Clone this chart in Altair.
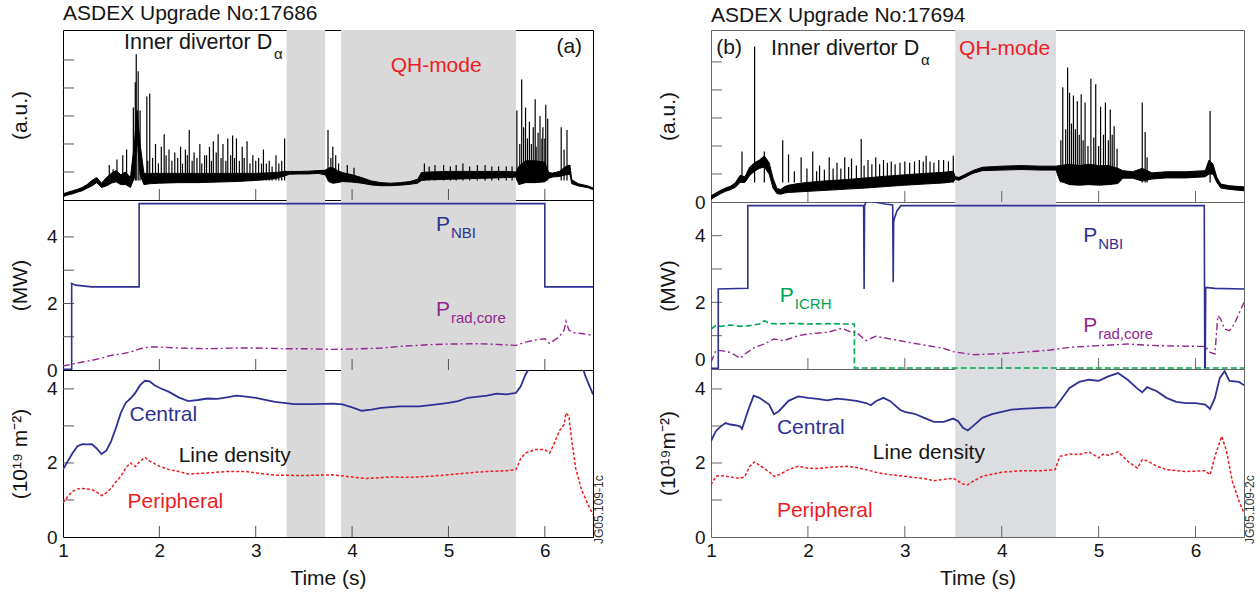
import altair as alt
import pandas as pd

FONT = "Liberation Sans"
INK = "#151515"
BLUE = "#2e3192"
PURPLE = "#93278f"
GREEN = "#00a651"
RED = "#ed1c24"
SHADE = "#d9d9d9"
SHADE_B = "#dcdde0"

# ---------------- data ----------------
QH_S_A = [3.32, 3.885]
QH_E_A = [3.72, 5.70]
QH_S_B = [3.52]
QH_E_B = [4.56]

XTICKS = [2, 3, 4, 5, 6]
XLABELS = [1, 2, 3, 4, 5, 6]
DA_TICKS = [1, 2, 3, 4, 5]
MW_TICKS = [1, 2, 3, 4]
MW_LABELS = [0, 2, 4]
ND_TICKS = [1, 2, 3, 4]
ND_LABELS = [0, 2, 4]

# Inner divertor D-alpha, shot 17686: noise band (lo/hi) and ELM spikes
DA_T_A = [1.00, 1.05, 1.10, 1.15, 1.20, 1.25, 1.30, 1.35, 1.40, 1.45, 1.50, 1.55, 1.60, 1.65, 1.70,
          1.74, 1.77, 1.80, 1.84, 1.90, 2.00, 2.20, 2.40, 2.60, 2.80, 3.00, 3.20, 3.30, 3.35, 3.45,
          3.55, 3.65, 3.72, 3.76, 3.80, 3.85, 3.90, 4.00, 4.10, 4.20, 4.30, 4.40, 4.50, 4.60, 4.68,
          4.72, 4.80, 5.00, 5.20, 5.40, 5.60, 5.70, 5.73, 5.80, 5.90, 6.00, 6.04, 6.08, 6.15, 6.22,
          6.26, 6.28, 6.35, 6.45, 6.50]
DA_LO_A = [0.12, 0.18, 0.22, 0.28, 0.33, 0.42, 0.50, 0.62, 0.45, 0.50, 0.60, 0.65, 0.55, 0.55, 0.45,
           0.80, 2.20, 0.90, 0.55, 0.58, 0.60, 0.62, 0.62, 0.64, 0.66, 0.70, 0.76, 0.86, 0.92, 0.93,
           0.93, 0.95, 0.90, 0.65, 0.60, 0.62, 0.66, 0.64, 0.60, 0.54, 0.51, 0.51, 0.53, 0.56, 0.60,
           0.70, 0.72, 0.74, 0.76, 0.78, 0.80, 0.82, 0.55, 0.62, 0.62, 0.65, 0.78, 0.82, 0.84, 0.90,
           0.92, 0.58, 0.50, 0.44, 0.37]
DA_HI_A = [0.22, 0.28, 0.33, 0.38, 0.45, 0.55, 0.70, 0.80, 0.60, 0.80, 0.95, 1.05, 0.90, 1.00, 0.80,
           2.00, 3.20, 2.00, 0.95, 0.95, 0.95, 0.95, 0.95, 0.95, 0.95, 0.95, 0.98, 1.02, 1.02, 1.02,
           1.03, 1.05, 1.06, 1.15, 1.15, 1.05, 0.98, 0.90, 0.80, 0.68, 0.62, 0.60, 0.62, 0.66, 0.74,
           0.98, 1.00, 1.02, 1.02, 1.02, 1.02, 1.00, 1.20, 1.40, 1.40, 1.35, 0.98, 0.96, 1.02, 1.20,
           1.25, 0.72, 0.58, 0.50, 0.43]
SPK_T_A = [1.48, 1.52, 1.56, 1.62, 1.66, 1.73, 1.75, 1.76, 1.78, 1.80, 1.87, 1.88, 1.90, 1.93, 1.96,
           1.99, 2.02, 2.05, 2.07, 2.10, 2.13, 2.16, 2.19, 2.22, 2.24, 2.27, 2.29, 2.31, 2.34, 2.36,
           2.39, 2.42, 2.44, 2.47, 2.49, 2.52, 2.54, 2.56, 2.59, 2.61, 2.64, 2.66, 2.69, 2.71, 2.74,
           2.76, 2.78, 2.80, 2.83, 2.86, 2.88, 2.91, 2.94, 2.97, 3.00, 3.03, 3.06, 3.08, 3.11, 3.14,
           3.17, 3.21, 3.24, 3.27, 3.30, 3.75, 3.78, 3.80, 3.83, 3.86, 3.95, 4.02, 4.75, 4.80, 4.86,
           4.95, 5.02, 5.08, 5.15, 5.22, 5.30, 5.38, 5.45, 5.52, 5.60, 5.66, 5.71, 5.74, 5.76, 5.78,
           5.80, 5.82, 5.84, 5.86, 5.88, 5.90, 5.91, 5.93, 5.95, 5.97, 5.98, 6.00, 6.01, 6.03, 6.17,
           6.20, 6.23]
SPK_H_A = [1.25, 1.10, 1.45, 1.60, 1.80, 3.30, 4.20, 5.20, 4.60, 3.20, 3.70, 1.40, 3.80, 1.50, 2.00,
           1.30, 1.90, 2.35, 1.60, 1.80, 1.40, 1.70, 1.50, 1.90, 1.30, 1.80, 1.60, 2.50, 1.40, 1.70,
           1.50, 2.00, 1.30, 1.60, 1.60, 1.90, 1.40, 2.10, 1.70, 2.35, 1.50, 2.00, 1.40, 2.20, 1.60,
           2.30, 1.50, 2.20, 1.40, 1.90, 1.50, 2.10, 1.30, 1.60, 1.40, 1.50, 1.30, 1.80, 1.30, 1.40,
           1.20, 1.60, 1.30, 1.40, 2.20, 2.50, 1.50, 1.90, 1.60, 1.30, 1.25, 1.15, 1.30, 1.20, 1.25,
           1.25, 1.20, 1.25, 1.30, 1.20, 1.25, 1.25, 1.20, 1.20, 1.20, 1.20, 3.20, 2.00, 4.30, 2.60,
           3.30, 2.20, 2.80, 2.00, 2.60, 3.60, 1.90, 2.40, 3.00, 2.20, 2.60, 2.20, 3.40, 2.90, 2.60,
           1.80, 2.50]

# Inner divertor D-alpha, shot 17694
DA_T_B = [1.00, 1.05, 1.10, 1.15, 1.20, 1.25, 1.30, 1.35, 1.40, 1.45, 1.50, 1.55, 1.60, 1.64, 1.68,
          1.72, 1.76, 1.80, 1.90, 2.00, 2.20, 2.40, 2.60, 2.80, 3.00, 3.20, 3.40, 3.50, 3.52, 3.56,
          3.62, 3.70, 3.80, 4.00, 4.20, 4.40, 4.56, 4.60, 4.70, 4.80, 4.90, 5.00, 5.10, 5.20, 5.25,
          5.35, 5.45, 5.55, 5.70, 5.90, 6.10, 6.14, 6.18, 6.22, 6.26, 6.35, 6.50]
DA_LO_B = [0.10, 0.20, 0.30, 0.38, 0.44, 0.52, 0.70, 0.70, 0.95, 1.10, 1.20, 1.25, 1.00, 0.50, 0.30,
           0.28, 0.32, 0.34, 0.36, 0.38, 0.42, 0.46, 0.50, 0.55, 0.60, 0.64, 0.68, 0.72, 0.80, 0.78,
           0.88, 1.02, 1.12, 1.14, 1.16, 1.14, 1.14, 0.75, 0.62, 0.60, 0.62, 0.60, 0.62, 0.66, 0.85,
           0.85, 0.75, 0.82, 0.86, 0.86, 0.90, 1.00, 1.00, 0.70, 0.50, 0.45, 0.40]
DA_HI_B = [0.22, 0.32, 0.42, 0.50, 0.56, 0.68, 0.95, 0.90, 1.25, 1.40, 1.50, 1.65, 1.40, 0.85, 0.48,
           0.45, 0.55, 0.60, 0.66, 0.70, 0.76, 0.80, 0.86, 0.92, 0.97, 1.02, 1.06, 1.10, 0.90, 0.88,
           0.98, 1.12, 1.24, 1.28, 1.30, 1.28, 1.28, 1.30, 1.35, 1.30, 1.35, 1.30, 1.30, 1.20, 1.12,
           1.08, 1.20, 1.04, 1.08, 1.08, 1.12, 1.50, 1.35, 0.88, 0.64, 0.58, 0.54]
SPK_T_B = [1.32, 1.45, 1.55, 1.74, 1.80, 1.86, 1.93, 1.99, 2.05, 2.09, 2.12, 2.17, 2.22, 2.26, 2.30,
           2.34, 2.38, 2.42, 2.45, 2.50, 2.55, 2.58, 2.62, 2.66, 2.70, 2.74, 2.78, 2.82, 2.86, 2.90,
           2.95, 3.00, 3.05, 3.10, 3.15, 3.19, 3.22, 3.26, 3.30, 3.35, 3.40, 3.45, 3.50, 4.61, 4.63,
           4.66, 4.68, 4.70, 4.72, 4.74, 4.76, 4.78, 4.80, 4.82, 4.84, 4.86, 4.89, 4.92, 4.95, 4.97,
           5.00, 5.02, 5.05, 5.07, 5.10, 5.12, 5.14, 5.16, 5.19, 5.45, 5.48, 5.50, 6.15]
SPK_H_B = [1.80, 5.55, 1.80, 2.20, 1.70, 1.10, 1.60, 1.20, 1.80, 1.10, 1.30, 1.15, 1.60, 1.20, 1.40,
           1.20, 1.60, 1.25, 1.55, 1.30, 2.25, 1.30, 1.50, 1.35, 1.60, 1.35, 1.50, 1.40, 1.45, 1.35,
           1.40, 1.45, 1.40, 1.45, 1.50, 1.45, 1.65, 1.45, 1.40, 1.50, 1.50, 1.45, 1.65, 2.20, 4.10,
           2.60, 4.80, 3.90, 2.80, 3.80, 2.60, 3.60, 2.40, 3.85, 2.20, 3.55, 2.00, 4.40, 2.30, 4.20,
           2.00, 3.40, 2.40, 3.55, 2.20, 3.30, 2.40, 2.70, 1.90, 3.55, 2.50, 1.60, 3.25]

# Heating / radiated power (MW)
NB_T_A = [1.0, 1.09, 1.09, 1.13, 1.3, 1.79, 1.79, 3.0, 6.0, 6.0, 6.5]
NB_V_A = [0.02, 0.02, 2.6, 2.55, 2.5, 2.5, 5.0, 5.0, 5.0, 2.5, 2.5]
PR_T_A = [1.0, 1.1, 1.2, 1.3, 1.4, 1.5, 1.6, 1.7, 1.8, 1.9, 2.0, 2.2, 2.5, 2.8, 3.0, 3.3, 3.5, 3.8,
          4.0, 4.3, 4.5, 4.8, 5.0, 5.3, 5.5, 5.7, 5.8, 5.9, 6.0, 6.05, 6.1, 6.15, 6.2, 6.22, 6.25,
          6.3, 6.4, 6.5]
PR_V_A = [0.12, 0.18, 0.24, 0.29, 0.36, 0.44, 0.48, 0.54, 0.64, 0.69, 0.69, 0.66, 0.64, 0.66, 0.66,
          0.64, 0.64, 0.62, 0.63, 0.66, 0.71, 0.76, 0.78, 0.79, 0.77, 0.74, 0.84, 0.90, 0.94, 0.80,
          0.90, 1.00, 1.20, 1.46, 1.20, 1.12, 1.09, 1.04]

NB_T_B = [1.0, 1.075, 1.075, 1.38, 1.38, 2.575, 2.58, 2.585, 2.6, 2.64, 2.7, 2.8, 2.875, 2.88, 2.885,
          2.89, 2.92, 2.96, 6.09, 6.095, 6.1, 6.105, 6.2, 6.5]
NB_V_B = [0.02, 0.02, 2.4, 2.42, 4.9, 4.9, 2.4, 4.9, 5.02, 5.05, 5.0, 4.95, 4.92, 2.6, 4.4, 4.5,
          4.75, 4.9, 4.9, 0.05, 0.05, 2.45, 2.42, 2.4]
IC_T_B = [1.0, 1.05, 1.1, 1.2, 1.3, 1.4, 1.5, 1.55, 1.6, 1.7, 1.8, 2.0, 2.2, 2.4, 2.48, 2.48, 6.5]
IC_V_B = [1.2, 1.3, 1.28, 1.32, 1.28, 1.3, 1.35, 1.45, 1.37, 1.35, 1.37, 1.35, 1.36, 1.35, 1.35,
          0.03, 0.03]
PR_T_B = [1.0, 1.05, 1.1, 1.2, 1.3, 1.35, 1.45, 1.55, 1.65, 1.75, 1.9, 2.0, 2.2, 2.35, 2.45, 2.5,
          2.6, 2.7, 2.8, 3.0, 3.2, 3.4, 3.5, 3.7, 3.9, 4.1, 4.3, 4.5, 4.7, 5.0, 5.3, 5.6, 6.0, 6.1,
          6.15, 6.2, 6.23, 6.26, 6.3, 6.35, 6.4, 6.5]
PR_V_B = [0.2, 0.55, 0.55, 0.5, 0.32, 0.45, 0.65, 0.75, 0.9, 0.85, 1.0, 1.05, 1.1, 1.22, 1.1, 1.1,
          0.85, 0.98, 0.93, 0.82, 0.72, 0.62, 0.52, 0.43, 0.45, 0.48, 0.52, 0.57, 0.65, 0.7, 0.75,
          0.7, 0.68, 0.68, 0.5, 0.45, 1.6, 1.5, 1.2, 1.15, 1.35, 2.0]

# Line density (10^19 m^-2)
NC_T_A = [1.0, 1.05, 1.1, 1.15, 1.2, 1.25, 1.3, 1.35, 1.4, 1.45, 1.5, 1.55, 1.6, 1.65, 1.7, 1.75,
          1.8, 1.85, 1.9, 1.95, 2.0, 2.1, 2.2, 2.3, 2.4, 2.5, 2.6, 2.7, 2.8, 2.9, 3.0, 3.2, 3.4,
          3.6, 3.8, 3.9, 4.0, 4.1, 4.2, 4.3, 4.5, 4.7, 4.9, 5.0, 5.1, 5.2, 5.4, 5.5, 5.6, 5.7, 5.75,
          5.8, 5.85, 6.0, 6.2, 6.38, 6.42, 6.5]
NC_V_A = [1.82, 2.05, 2.27, 2.45, 2.51, 2.5, 2.51, 2.39, 2.24, 2.33, 2.59, 2.95, 3.35, 3.62, 3.74,
          3.89, 4.1, 4.22, 4.2, 4.1, 4.03, 3.92, 3.77, 3.67, 3.7, 3.74, 3.73, 3.77, 3.82, 3.79, 3.76,
          3.65, 3.59, 3.59, 3.6, 3.58, 3.5, 3.41, 3.44, 3.49, 3.53, 3.53, 3.59, 3.62, 3.67, 3.76,
          3.82, 3.87, 3.85, 3.89, 4.07, 4.39, 4.6, 4.9, 4.9, 4.7, 4.35, 3.85]
NP_T_A = [1.0, 1.05, 1.1, 1.15, 1.2, 1.3, 1.35, 1.4, 1.45, 1.5, 1.55, 1.6, 1.65, 1.7, 1.75, 1.8,
          1.85, 1.9, 2.0, 2.1, 2.2, 2.3, 2.5, 2.7, 2.9, 3.0, 3.2, 3.5, 3.8, 4.0, 4.15, 4.4, 4.6,
          4.8, 5.0, 5.2, 5.4, 5.6, 5.7, 5.75, 5.8, 5.9, 6.0, 6.05, 6.1, 6.15, 6.2, 6.22, 6.25,
          6.28, 6.32, 6.38, 6.45, 6.5]
NP_V_A = [0.92, 1.1, 1.23, 1.3, 1.31, 1.28, 1.21, 1.12, 1.19, 1.32, 1.49, 1.64, 1.86, 2.0, 1.9,
          2.05, 2.15, 2.05, 1.91, 1.82, 1.77, 1.7, 1.73, 1.77, 1.77, 1.73, 1.67, 1.66, 1.68, 1.62,
          1.58, 1.62, 1.61, 1.64, 1.68, 1.73, 1.77, 1.79, 1.82, 2.12, 2.27, 2.36, 2.36, 2.27, 2.54,
          2.86, 3.04, 3.35, 3.26, 2.59, 1.86, 1.28, 0.87, 0.6]
NC_T_B = [1.0, 1.05, 1.1, 1.15, 1.2, 1.25, 1.3, 1.32, 1.38, 1.44, 1.5, 1.6, 1.65, 1.7, 1.8, 1.9,
          2.0, 2.1, 2.2, 2.3, 2.4, 2.5, 2.6, 2.65, 2.7, 2.78, 2.85, 2.95, 3.0, 3.1, 3.2, 3.3, 3.4,
          3.5, 3.55, 3.6, 3.65, 3.7, 3.8, 3.9, 4.0, 4.1, 4.2, 4.4, 4.55, 4.6, 4.7, 4.8, 4.9, 5.0,
          5.1, 5.2, 5.3, 5.4, 5.45, 5.5, 5.6, 5.7, 5.8, 5.9, 6.0, 6.1, 6.15, 6.2, 6.25, 6.3, 6.35,
          6.45, 6.5]
NC_V_B = [2.59, 2.86, 2.99, 3.08, 3.04, 3.02, 2.99, 2.92, 3.4, 3.82, 3.76, 3.58, 3.32, 3.4, 3.68,
          3.8, 3.76, 3.73, 3.69, 3.74, 3.71, 3.68, 3.62, 3.56, 3.67, 3.76, 3.67, 3.44, 3.38, 3.33,
          3.22, 3.11, 3.11, 3.2, 3.13, 2.95, 2.88, 2.99, 3.22, 3.32, 3.38, 3.44, 3.46, 3.49, 3.5,
          3.67, 4.03, 4.19, 4.25, 4.22, 4.34, 4.43, 4.25, 4.01, 3.91, 4.05, 3.94, 3.76, 3.65, 3.62,
          3.62, 3.58, 3.46, 3.76, 4.3, 4.48, 4.22, 4.19, 4.1]
NP_T_B = [1.0, 1.05, 1.1, 1.2, 1.3, 1.35, 1.4, 1.45, 1.5, 1.6, 1.65, 1.7, 1.8, 1.9, 2.0, 2.1, 2.2,
          2.4, 2.5, 2.6, 2.7, 2.8, 3.0, 3.2, 3.3, 3.5, 3.6, 3.65, 3.7, 3.8, 4.0, 4.2, 4.4, 4.55, 4.6,
          4.7, 4.8, 4.9, 5.0, 5.05, 5.1, 5.2, 5.3, 5.4, 5.45, 5.5, 5.6, 5.7, 5.9, 6.1, 6.15, 6.2,
          6.27, 6.32, 6.38, 6.45, 6.5]
NP_V_B = [1.41, 1.64, 1.66, 1.62, 1.58, 1.64, 1.91, 2.03, 1.94, 1.76, 1.64, 1.68, 1.82, 1.91, 1.86,
          1.85, 1.88, 1.91, 1.88, 1.82, 1.75, 1.7, 1.64, 1.58, 1.52, 1.59, 1.43, 1.41, 1.5, 1.64, 1.75,
          1.79, 1.79, 1.82, 2.18, 2.24, 2.23, 2.3, 2.14, 2.24, 2.21, 2.3, 2.05, 1.86, 2.09, 2.06, 1.91,
          1.82, 1.77, 1.79, 1.68, 2.18, 2.72, 2.32, 1.5, 0.96, 0.65]

# annotations: (time, value, text)
ANN_A = {
    "da": (1.633, 5.6, "Inner divertor D"), "tag": (6.12, 5.45, "(a)"), "qh": (4.40, 4.79, "QH-mode"),
    "nbi": (4.87, 4.36, "P"), "prad": (4.87, 1.80, "P"),
    "cen": (1.69, 3.30, "Central"), "ld": (2.20, 2.19, "Line density"), "per": (1.67, 0.95, "Peripheral"),
}
ANN_B = {
    "da": (1.62, 5.46, "Inner divertor D"), "tag": (1.054, 5.5, "(b)"), "qh": (3.56, 5.46, "QH-mode"),
    "nbi": (4.84, 4.0, "P"), "icrh": (1.71, 2.19, "P"), "prad": (4.84, 1.29, "P"),
    "cen": (1.68, 2.95, "Central"), "ld": (2.67, 2.27, "Line density"), "per": (1.68, 0.70, "Peripheral"),
}

# ---------------- building ----------------
XS = alt.Scale(domain=[1, 6.5], nice=False, zero=False)


def yaxis(title, values=None, baseline=None):
    kw = dict(title=title, ticks=False, domain=False, grid=False, titleX=-43,
              titleAlign="center", titleBaseline="middle", titleAngle=-90,
              titleFontSize=21, titleFontWeight="normal", titleColor=INK, titleFont=FONT,
              labelFont=FONT, labelFontSize=19, labelColor=INK, labelPadding=6)
    if values is None:
        kw["labels"] = False
    else:
        kw["values"] = values
        kw["format"] = "d"
    if baseline is not None:
        kw["labelBaseline"] = baseline
    return alt.Axis(**kw)


def xaxis_bottom():
    return alt.Axis(values=XLABELS, format="d", title="Time (s)", ticks=False, domain=False,
                    grid=False, labelPadding=4, titlePadding=7, labelFontSize=19,
                    titleFontSize=21, titleFontWeight="normal", labelFont=FONT, titleFont=FONT,
                    labelColor=INK, titleColor=INK, labelFlush=False)


def text_layer(X, Y, t, v, s, color, size=21, dx=0, dy=0, align="left"):
    df = pd.DataFrame({"t": [t], "v": [v], "s": [s]})
    return alt.Chart(df).mark_text(font=FONT, fontSize=size, color=color, align=align,
                                   baseline="middle", dx=dx, dy=dy).encode(
        x=X("t"), y=Y("v"), text="s:N")


def panel(W, H, ydom, yax, xax, shade, yticks, tickcol, build):
    ys = alt.Scale(domain=ydom, nice=False, zero=False)

    def X(f):
        return alt.X(f"{f}:Q", scale=XS, axis=xax)

    def Y(f):
        return alt.Y(f"{f}:Q", scale=ys, axis=yax)

    s, e, col = shade
    layers = [
        alt.Chart(pd.DataFrame({"s": s, "e": e})).mark_rect(color=col).encode(
            x=X("s"), x2="e:Q", y=alt.value(0), y2=alt.value(H)),
        alt.Chart(pd.DataFrame({"t": XTICKS})).mark_rule(color=tickcol, strokeWidth=1).encode(
            x=X("t"), y=alt.value(H), y2=alt.value(H - 11)),
        alt.Chart(pd.DataFrame({"v": yticks})).mark_rule(color=tickcol, strokeWidth=1).encode(
            y=Y("v"), x=alt.value(0), x2=alt.value(11)),
    ]
    layers += build(X, Y)
    return alt.layer(*layers).properties(width=W, height=H)


def line(X, Y, t, v, color, width=1.5, dash=None):
    df = pd.DataFrame({"t": t, "v": v, "i": list(range(len(t)))})
    kw = dict(color=color, strokeWidth=width, clip=True, interpolate="linear")
    if dash:
        kw["strokeDash"] = dash
    return alt.Chart(df).mark_line(**kw).encode(x=X("t"), y=Y("v"), order="i:Q")


def dalpha(X, Y, t, lo, hi, st, sh):
    band = alt.Chart(pd.DataFrame({"t": t, "lo": lo, "hi": hi})).mark_area(
        color="black", stroke="black", strokeWidth=1.0, clip=True).encode(
        x=X("t"), y=Y("lo"), y2="hi:Q")
    base = [0.7] * len(st)
    spikes = alt.Chart(pd.DataFrame({"t": st, "h": sh, "b": base})).mark_rule(
        color="black", strokeWidth=1.2).encode(x=X("t"), y=Y("b"), y2="h:Q")
    return [band, spikes]


def jg(W, H, txt):
    return alt.Chart(pd.DataFrame({"a": [0]})).mark_text(
        font=FONT, fontSize=12, color="#333", angle=270, align="left", baseline="middle").encode(
        x=alt.value(W + 6), y=alt.value(H + 7), text=alt.value(txt))


def title(txt, off):
    return alt.TitleParams(txt, anchor="start", frame="group", fontSize=21, font=FONT,
                           fontWeight="normal", color=INK, offset=off)


# ---------- column (a) ----------
WA = 530
HA = [170, 170, 167]
TICKA = "#555555"
shadeA = (QH_S_A, QH_E_A, SHADE)


def top_a(X, Y):
    a = ANN_A
    return dalpha(X, Y, DA_T_A, DA_LO_A, DA_HI_A, SPK_T_A, SPK_H_A) + [
        text_layer(X, Y, *a["da"], INK, size=21.5),
        text_layer(X, Y, a["da"][0], a["da"][1], "α", INK, size=15, dx=150, dy=11),
        text_layer(X, Y, *a["tag"], INK),
        text_layer(X, Y, *a["qh"], RED),
    ]


def mid_a(X, Y):
    a = ANN_A
    return [
        line(X, Y, NB_T_A, NB_V_A, BLUE, 1.6),
        line(X, Y, PR_T_A, PR_V_A, PURPLE, 1.4, [7, 3, 2, 3]),
        text_layer(X, Y, *a["nbi"], BLUE),
        text_layer(X, Y, a["nbi"][0], a["nbi"][1], "NBI", BLUE, size=15, dx=15, dy=8),
        text_layer(X, Y, *a["prad"], PURPLE),
        text_layer(X, Y, a["prad"][0], a["prad"][1], "rad,core", PURPLE, size=15, dx=15, dy=8),
    ]


def bot_a(X, Y):
    a = ANN_A
    return [
        line(X, Y, NC_T_A, NC_V_A, BLUE, 1.8),
        line(X, Y, NP_T_A, NP_V_A, RED, 1.5, [3, 2]),
        text_layer(X, Y, *a["cen"], BLUE),
        text_layer(X, Y, *a["ld"], INK),
        text_layer(X, Y, *a["per"], RED),
        jg(WA, HA[2], "JG05.109-1c"),
    ]


pa1 = panel(WA, HA[0], [0, 6.07], yaxis("(a.u.)"), None, shadeA, DA_TICKS, TICKA, top_a).properties(
    title=title("ASDEX Upgrade No:17686", 6))
pa2 = panel(WA, HA[1], [0, 5.11], yaxis("(MW)", MW_LABELS), None, shadeA, MW_TICKS, TICKA, mid_a)
pa3 = panel(WA, HA[2], [0, 4.51], yaxis("(10¹⁹ m⁻²)", ND_LABELS), xaxis_bottom(), shadeA, ND_TICKS,
            TICKA, bot_a)
colA = alt.vconcat(pa1, pa2, pa3, spacing=0, bounds="flush")

# ---------- column (b) ----------
WB = 533
HB = [172, 167, 168]
TICKB = "#666666"
shadeB = (QH_S_B, QH_E_B, SHADE_B)


def top_b(X, Y):
    b = ANN_B
    return dalpha(X, Y, DA_T_B, DA_LO_B, DA_HI_B, SPK_T_B, SPK_H_B) + [
        text_layer(X, Y, *b["da"], INK, size=21.5),
        text_layer(X, Y, b["da"][0], b["da"][1], "α", INK, size=15, dx=150, dy=11),
        text_layer(X, Y, *b["tag"], INK),
        text_layer(X, Y, *b["qh"], RED),
    ]


def mid_b(X, Y):
    b = ANN_B
    return [
        line(X, Y, IC_T_B, IC_V_B, GREEN, 1.6, [6, 3]),
        line(X, Y, PR_T_B, PR_V_B, PURPLE, 1.4, [7, 3, 2, 3]),
        line(X, Y, NB_T_B, NB_V_B, BLUE, 1.6),
        text_layer(X, Y, *b["nbi"], BLUE),
        text_layer(X, Y, b["nbi"][0], b["nbi"][1], "NBI", BLUE, size=15, dx=15, dy=8),
        text_layer(X, Y, *b["icrh"], GREEN),
        text_layer(X, Y, b["icrh"][0], b["icrh"][1], "ICRH", GREEN, size=15, dx=15, dy=8),
        text_layer(X, Y, *b["prad"], PURPLE),
        text_layer(X, Y, b["prad"][0], b["prad"][1], "rad,core", PURPLE, size=15, dx=15, dy=8),
    ]


def bot_b(X, Y):
    b = ANN_B
    return [
        line(X, Y, NC_T_B, NC_V_B, BLUE, 1.8),
        line(X, Y, NP_T_B, NP_V_B, RED, 1.5, [3, 2]),
        text_layer(X, Y, *b["cen"], BLUE),
        text_layer(X, Y, *b["ld"], INK),
        text_layer(X, Y, *b["per"], RED),
        jg(WB, HB[2], "JG05.109-2c"),
    ]


view_b = alt.ViewBackground(stroke="#666666", strokeWidth=1)
pb1 = panel(WB, HB[0], [0, 6.14], yaxis("(a.u.)", [0]), None, shadeB, DA_TICKS, TICKB, top_b).properties(
    title=title("ASDEX Upgrade No:17694", 4), view=view_b)
pb2 = panel(WB, HB[1], [0, 5.01],
            yaxis("(MW)", MW_LABELS,
                  {"condition": {"test": "datum.value === 0", "value": "bottom"}, "value": "middle"}),
            None, shadeB, MW_TICKS, TICKB, mid_b).properties(view=view_b)
pb3 = panel(WB, HB[2], [0, 4.54], yaxis("(10¹⁹m⁻²)", ND_LABELS), xaxis_bottom(), shadeB, ND_TICKS,
            TICKB, bot_b).properties(view=view_b)
colB = alt.vconcat(pb1, pb2, pb3, spacing=0, bounds="flush")

chart = alt.hconcat(colA, colB, spacing=50).properties(
    padding={"left": 8, "top": 2, "right": 2, "bottom": 2},
    background="white",
).configure_view(stroke="black", strokeWidth=1).configure_concat(spacing=0)

chart.save("out.html", embed_options={"renderer": "svg", "actions": False})
